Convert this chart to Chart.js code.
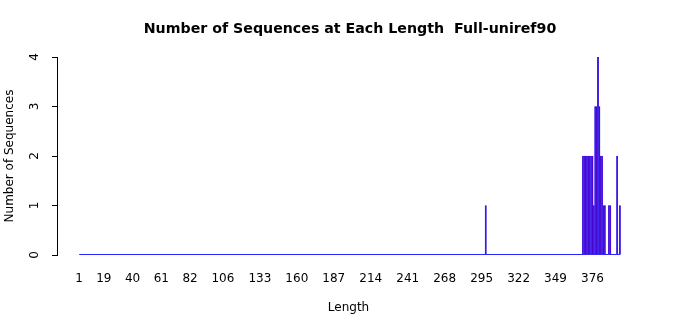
<!DOCTYPE html>
<html>
<head>
    <title>Number of Sequences at Each Length</title>
    <script src="https://cdn.jsdelivr.net/npm/chart.js"></script>
    <style>
        * {
            margin: 0;
            padding: 0;
            box-sizing: border-box;
        }

        body {
            background-color: white;
        }

        canvas {
            display: block;
        }
    </style>
</head>
<body>
    <canvas id="lengthChart" width="700" height="315"></canvas>

    <script>
        // lengths that have at least one sequence, and how many
        const seqLengths = [298, 369, 370, 371, 372, 373, 374, 375, 376, 377, 378, 379, 380, 381, 382, 383, 384, 385, 388, 389, 394, 396];
        const seqCounts  = [1,   2,   2,   2,   2,   2,   2,   2,   2,   1,   3,   3,   4,   3,   2,   2,   1,   1,   1,   1,   2,   1];

        // every other length from 1 to 396 has zero sequences
        const baseLengths = [1, 396];
        const baseCounts = [0, 0];

        // labels R printed under the bars
        const xTickLabels = [1, 19, 40, 61, 82, 106, 133, 160, 187, 214, 241, 268, 295, 322, 349, 376];
        const yTickLabels = [0, 1, 2, 3, 4];

        const font = { family: 'DejaVu Sans', size: 12 };

        const ctx = document.getElementById('lengthChart').getContext('2d');

        const lengthChart = new Chart(ctx, {
            type: 'bar',
            data: {
                datasets: [
                    {
                        type: 'line',
                        data: baseLengths.map((l, i) => ({ x: l, y: baseCounts[i] })),
                        borderColor: '#2626ff',
                        borderWidth: 1.8,
                        pointRadius: 0,
                        order: 2
                    },
                    {
                        data: seqLengths.map((l, i) => ({ x: l, y: seqCounts[i] })),
                        backgroundColor: '#4a08d0',
                        borderColor: '#3c3cff',
                        borderWidth: 0.4,
                        borderSkipped: false,
                        barPercentage: 1,
                        categoryPercentage: 1,
                        order: 1
                    }
                ]
            },
            options: {
                responsive: false,
                animation: false,
                devicePixelRatio: 1,
                layout: {
                    padding: 0
                },
                plugins: {
                    legend: { display: false },
                    tooltip: { enabled: false },
                    title: {
                        display: true,
                        text: 'Number of Sequences at Each Length  Full-uniref90',
                        color: '#000',
                        font: { family: 'DejaVu Sans', size: 14.2, weight: 'bold' },
                        padding: { top: 21, bottom: 19 }
                    }
                },
                scales: {
                    x: {
                        type: 'linear',
                        offset: false,
                        min: -15.2,
                        max: 410.7,
                        grid: { display: false, drawTicks: false },
                        border: { display: false },
                        afterBuildTicks: scale => {
                            scale.ticks = xTickLabels.map(v => ({ value: v }));
                        },
                        afterFit: scale => {
                            scale.height = 60;
                            scale.paddingLeft = 0;
                            scale.paddingRight = 0;
                        },
                        ticks: {
                            autoSkip: false,
                            maxRotation: 0,
                            padding: 17,
                            color: '#000',
                            font: font,
                            callback: v => String(v)
                        },
                        title: {
                            display: true,
                            text: 'Length',
                            color: '#000',
                            font: font,
                            padding: { top: 0, bottom: 0 }
                        }
                    },
                    y: {
                        min: 0,
                        max: 4,
                        afterBuildTicks: scale => {
                            scale.ticks = yTickLabels.map(v => ({ value: v }));
                        },
                        afterFit: scale => {
                            scale.width = 57;
                            scale.paddingTop = 0;
                            scale.paddingBottom = 0;
                        },
                        grid: {
                            drawOnChartArea: false,
                            drawTicks: true,
                            tickLength: 5,
                            color: '#000',
                            tickColor: '#000'
                        },
                        border: { display: true, color: '#000' },
                        ticks: {
                            minRotation: 90,
                            maxRotation: 90,
                            crossAlign: 'center',
                            padding: 13.2,
                            color: '#000',
                            font: font
                        },
                        title: {
                            display: true,
                            text: 'Number of Sequences',
                            color: '#000',
                            font: font,
                            padding: { top: 2.3, bottom: 0 }
                        }
                    },
                    // empty right margin, like the R plot region
                    yRight: {
                        position: 'right',
                        display: true,
                        grid: { display: false, drawTicks: false },
                        border: { display: false },
                        ticks: { display: false },
                        afterFit: scale => {
                            scale.width = 60;
                            scale.paddingTop = 0;
                            scale.paddingBottom = 0;
                        }
                    }
                }
            }
        });
    </script>
</body>
</html>
